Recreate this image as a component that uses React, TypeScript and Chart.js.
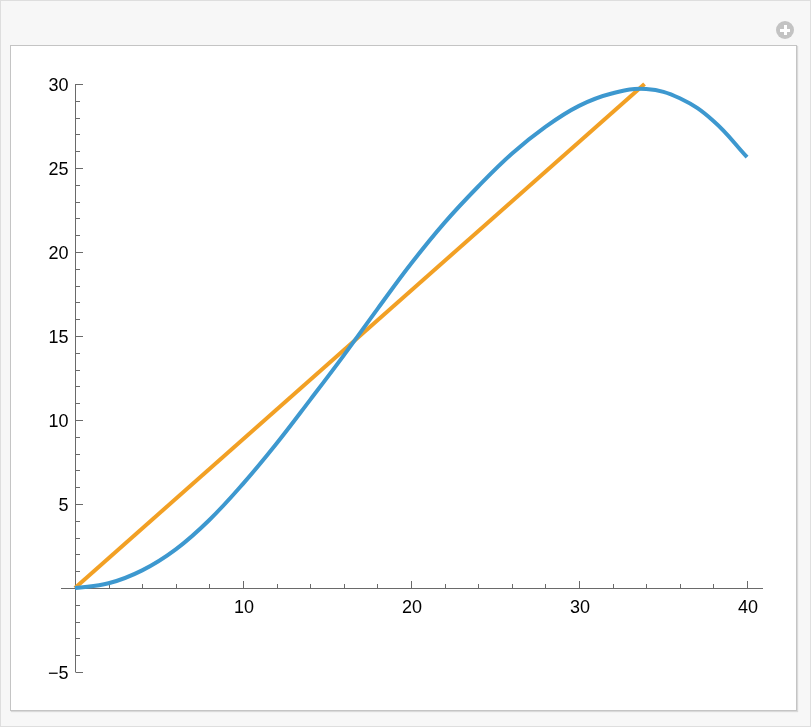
import React, { useEffect, useRef } from 'react';
import { Chart, registerables } from 'chart.js';

Chart.register(...registerables);

// curve values
const curveX = [0, 2, 4, 6, 8, 10, 12, 14, 16, 18, 20, 22, 24, 26, 28, 30, 32, 34, 36, 38, 40];
const curveY = [0, 0.28, 1.05, 2.3, 4.05, 6.2, 8.6, 11.2, 13.85, 16.6, 19.3, 21.75, 23.9, 25.85, 27.45, 28.7, 29.45, 29.7, 29.15, 27.8, 25.65];

const lineX = [0, 33.9];
const lineY = [0, 30];

// axes
const xMajorTicks = [10, 20, 30, 40];
const xMinorTicks = [2, 4, 6, 8, 12, 14, 16, 18, 22, 24, 26, 28, 32, 34, 36, 38];
const xTickLabels = ['10', '20', '30', '40'];
const yMajorTicks = [-5, 5, 10, 15, 20, 25, 30];
const yMinorTicks = [-4, -3, -2, -1, 1, 2, 3, 4, 6, 7, 8, 9, 11, 12, 13, 14, 16, 17, 18, 19, 21, 22, 23, 24, 26, 27, 28, 29];
const yTickLabels = ['\u22125', '5', '10', '15', '20', '25', '30'];

const AXIS_COLOR = '#6a6a6a';
const BLUE = '#3d98cf';
const ORANGE = '#f2a024';

const axesPlugin = {
  id: 'mmaAxes',
  beforeDatasetsDraw(chart: any) {
    const { ctx } = chart;
    const xs = chart.scales.x;
    const ys = chart.scales.y;
    const x0 = Math.round(xs.getPixelForValue(0)) + 0.5;
    const y0 = Math.round(ys.getPixelForValue(0)) + 0.5;
    ctx.save();
    ctx.strokeStyle = AXIS_COLOR;
    ctx.lineWidth = 1;

    ctx.beginPath();
    ctx.moveTo(xs.left, y0);
    ctx.lineTo(xs.right, y0);
    ctx.moveTo(x0, ys.top);
    ctx.lineTo(x0, ys.bottom);

    xMinorTicks.forEach(v => {
      const px = Math.round(xs.getPixelForValue(v)) + 0.5;
      ctx.moveTo(px, y0);
      ctx.lineTo(px, y0 - 4.5);
    });
    xMajorTicks.forEach(v => {
      const px = Math.round(xs.getPixelForValue(v)) + 0.5;
      ctx.moveTo(px, y0);
      ctx.lineTo(px, y0 - 7.5);
    });
    yMinorTicks.forEach(v => {
      const py = Math.round(ys.getPixelForValue(v)) + 0.5;
      ctx.moveTo(x0, py);
      ctx.lineTo(x0 + 4.5, py);
    });
    yMajorTicks.forEach(v => {
      const py = Math.round(ys.getPixelForValue(v)) + 0.5;
      ctx.moveTo(x0, py);
      ctx.lineTo(x0 + 7.5, py);
    });
    ctx.stroke();

    ctx.fillStyle = '#000';
    ctx.font = '18px "Liberation Sans", Arial, sans-serif';
    ctx.textBaseline = 'alphabetic';
    ctx.textAlign = 'center';
    xMajorTicks.forEach((v, i) => {
      ctx.fillText(xTickLabels[i], xs.getPixelForValue(v) + 1, y0 + 24.5);
    });
    ctx.textAlign = 'right';
    yMajorTicks.forEach((v, i) => {
      ctx.fillText(yTickLabels[i], x0 - 7, ys.getPixelForValue(v) + 6.6);
    });
    ctx.restore();
  },
};

const App: React.FC = () => {
  const canvasRef = useRef<HTMLCanvasElement>(null);
  const chartInstance = useRef<Chart | null>(null);

  useEffect(() => {
    document.body.style.margin = '0';
    if (!canvasRef.current) return;
    if (chartInstance.current) chartInstance.current.destroy();

    chartInstance.current = new Chart(canvasRef.current, {
      type: 'scatter',
      data: {
        datasets: [
          {
            data: curveX.map((x, i) => ({ x, y: curveY[i] })),
            showLine: true,
            borderColor: BLUE,
            borderWidth: 4,
            pointRadius: 0,
            tension: 0.4,
            clip: false,
          } as any,
          {
            data: lineX.map((x, i) => ({ x, y: lineY[i] })),
            showLine: true,
            borderColor: ORANGE,
            borderWidth: 4,
            pointRadius: 0,
            tension: 0,
            clip: false,
          } as any,
        ],
      },
      options: {
        responsive: false,
        animation: false,
        events: [],
        layout: { padding: { left: 61, right: 48, top: 84, bottom: 55 } },
        plugins: { legend: { display: false }, tooltip: { enabled: false } },
        scales: {
          x: { type: 'linear', min: -0.83, max: 40.95, display: false },
          y: { type: 'linear', min: -5, max: 30, display: false },
        },
      },
      plugins: [axesPlugin],
    });

    return () => {
      if (chartInstance.current) {
        chartInstance.current.destroy();
        chartInstance.current = null;
      }
    };
  }, []);

  return (
    <div style={{ position: 'relative', width: 811, height: 727, background: '#fff' }}>
      {/* outer panel */}
      <div style={{ position: 'absolute', left: 0, top: 0, width: 809, height: 725, background: '#f7f7f7', border: '1px solid #dedede' }} />
      {/* plus icon */}
      <div style={{ position: 'absolute', left: 776, top: 21, width: 18, height: 18, borderRadius: '50%', background: '#c3c3c3' }}>
        <div style={{ position: 'absolute', left: 4, top: 7.5, width: 10, height: 3, background: '#fff' }} />
        <div style={{ position: 'absolute', left: 7.5, top: 4, width: 3, height: 10, background: '#fff' }} />
      </div>
      {/* white plot box */}
      <div style={{ position: 'absolute', left: 10, top: 45, width: 785, height: 664, background: '#fff', border: '1px solid #c4c4c4', boxShadow: '1px 1px 1px rgba(0,0,0,0.12)' }} />
      <canvas ref={canvasRef} width={811} height={727} style={{ position: 'absolute', left: 0, top: 0 }} />
    </div>
  );
};

export default App;
